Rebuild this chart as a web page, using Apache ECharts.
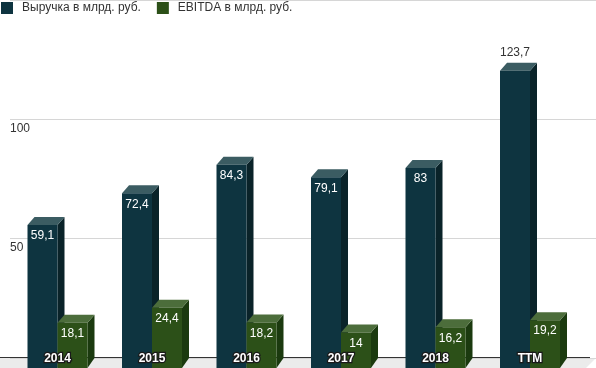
<!DOCTYPE html>
<html>
<head>
<meta charset="utf-8">
<script src="https://cdn.jsdelivr.net/npm/echarts@6/dist/echarts.min.js"></script>
<style>html,body{margin:0;padding:0;background:#fff}#c{width:596px;height:368px}</style>
</head>
<body>
<div id="c"></div>
<script>
var categories = ['2014', '2015', '2016', '2017', '2018', 'TTM'];
var revenue = [59.1, 72.4, 84.3, 79.1, 83, 123.7];
var ebitda = [18.1, 24.4, 18.2, 14, 16.2, 19.2];
var yTicks = [0, 50, 100, 150];

var DX = 7, DY = 8, BW = 30;
var FONT = 'Liberation Sans, Arial, sans-serif';

function fmt(v) { return String(v).replace('.', ','); }
function shade(offset, front, side, top, values) {
  var maxV = Math.max.apply(null, values);
  return function (params, api) {
    var i = api.value(0), v = api.value(1);
    var p = api.coord([i, v]);
    var b = api.coord([i, 0]);
    var x0 = p[0] + offset;
    var yt = p[1] + DY;         // front top
    var yb = b[1] + DY + 2;     // front bottom
    var children = [
      { type: 'polygon', shape: { points: [[x0 + BW, yt], [x0 + BW + DX, p[1]], [x0 + BW + DX, b[1]], [x0 + BW, yb]] }, style: { fill: side } },
      { type: 'polygon', shape: { points: [[x0, yt], [x0 + BW, yt], [x0 + BW + DX, p[1]], [x0 + DX, p[1]]] }, style: { fill: top } },
      { type: 'rect', shape: { x: x0, y: yt, width: BW, height: yb - yt }, style: { fill: front } }
    ];
    var outside = v === maxV && v > 100;
    children.push({
      type: 'text',
      z2: 10,
      style: {
        text: fmt(v), x: x0 + BW / 2, y: outside ? p[1] - 4 : yt + 5,
        fill: outside ? '#333333' : '#ffffff',
        font: '12px ' + FONT,
        align: 'center', verticalAlign: outside ? 'bottom' : 'top'
      }
    });
    return { type: 'group', children: children };
  };
}

var chart = echarts.init(document.getElementById('c'), null, { renderer: 'canvas' });
chart.setOption({
  animation: false,
  textStyle: { fontFamily: FONT },
  legend: {
    left: 1, top: 2, padding: 0, itemWidth: 12, itemHeight: 12, itemGap: 16,
    icon: 'rect',
    textStyle: { color: '#333333', fontSize: 12, fontFamily: FONT, padding: [0, 0, 0, 4] },
    data: ['Выручка в млрд. руб.', 'EBITDA в млрд. руб.']
  },
  graphic: [
    { type: 'polygon', z: 0, silent: true,
      shape: { points: [[10, 358], [596, 358], [596, 358], [586, 368], [0, 368], [0, 358]] },
      style: { fill: '#ebebeb' } },
    { type: 'line', z: 0, silent: true,
      shape: { x1: 0, y1: 357.5, x2: 590, y2: 357.5 },
      style: { stroke: '#333333', lineWidth: 1 } }
  ],
  grid: [
    { left: 10.25, right: 18.75, top: -2, bottom: 10 },
    { left: 10, right: 0, top: -2, bottom: 10 }
  ],
  xAxis: [
    { type: 'category', gridIndex: 0, data: categories, z: 10,
      axisLine: { show: false }, axisTick: { show: false },
      axisLabel: { margin: -5, color: '#ffffff', fontWeight: 'bold', fontSize: 12, fontFamily: FONT,
        textBorderColor: '#1a1a1a', textBorderWidth: 2.5 } },
    { type: 'category', gridIndex: 1, data: categories, show: false }
  ],
  yAxis: [
    { type: 'value', gridIndex: 0, min: yTicks[0], max: yTicks[yTicks.length - 1], interval: 50, show: false },
    { type: 'value', gridIndex: 1, min: yTicks[0], max: yTicks[yTicks.length - 1], interval: 50,
      axisLine: { show: false }, axisTick: { show: false },
      splitLine: { lineStyle: { color: '#d6d6d6', width: 1 } },
      axisLabel: { inside: true, margin: 0, verticalAlign: 'top', padding: [3, 0, 0, 0],
        color: '#333333', fontSize: 12, fontFamily: FONT, showMinLabel: false, showMaxLabel: false } }
  ],
  series: [
    { name: 'Выручка в млрд. руб.', type: 'custom', xAxisIndex: 0, yAxisIndex: 0, clip: false, z: 3,
      itemStyle: { color: '#0e3440' },
      renderItem: shade(-BW, '#0e3440', '#0a2329', '#3b5c62', revenue),
      encode: { x: 0, y: 1 },
      data: revenue.map(function (v, i) { return [i, v]; }) },
    { name: 'EBITDA в млрд. руб.', type: 'custom', xAxisIndex: 0, yAxisIndex: 0, clip: false, z: 4,
      itemStyle: { color: '#2c5018' },
      renderItem: shade(0, '#2c5018', '#1b3a0f', '#4c6d3b', ebitda),
      encode: { x: 0, y: 1 },
      data: ebitda.map(function (v, i) { return [i, v]; }) }
  ]
});
</script>
</body>
</html>
